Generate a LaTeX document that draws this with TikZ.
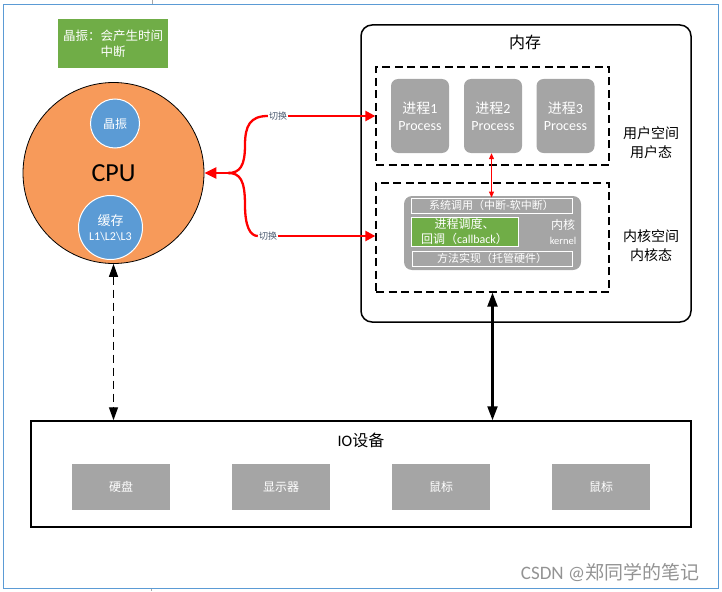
\documentclass[tikz,border=0pt]{standalone}
\usepackage{fontspec}
\setmainfont{Carlito}
\newfontfamily\cjk{Noto Sans CJK SC}
\usetikzlibrary{arrows.meta}
\definecolor{cgreen}{HTML}{70AD47}
\definecolor{corange}{HTML}{F79A5A}
\definecolor{cblue}{HTML}{5B9BD5}
\definecolor{cgray}{HTML}{A5A5A5}
\definecolor{cframe}{HTML}{5B9BD5}
\definecolor{clabel}{HTML}{44546A}
\newcommand{\fs}[2]{\fontsize{#1}{#2}\selectfont}
\begin{document}
\begin{tikzpicture}[x=1pt,y=-1pt,
  proc/.style={fill=cgray, rounded corners=7pt, minimum width=58pt, minimum height=74pt, text=white, align=center, inner sep=0pt, font=\fs{14}{17}},
  dev/.style={fill=cgray, minimum width=98pt, minimum height=46pt, text=white, font=\cjk\fs{12}{14}, inner sep=0pt},
  dbox/.style={draw, dash pattern=on 8pt off 4.5pt, line width=1.3pt, minimum width=233pt, inner sep=0pt},
  wbox/.style={draw=white, line width=0.9pt, text=white, inner sep=0pt},
  redline/.style={draw=red, line width=2.3pt},
  lab/.style={text=clabel, font=\cjk\fs{9}{10}, inner sep=1pt},
  bic/.style={circle, fill=cblue, draw=white, line width=1pt, text=white, inner sep=0pt, align=center}
]
\useasboundingbox (0,0) rectangle (722,591);
% outer frame
\draw[cframe, line width=1pt] (3.5,4.5) rectangle (718.5,588);
\draw[gray!70, line width=0.8pt] (152,0) -- (152,4);
\draw[gray!70, line width=0.8pt] (151,588.5) -- (151,591);

% green note
\node[fill=cgreen, minimum width=110pt, minimum height=49pt, text=white, align=center, font=\cjk\fs{12.5}{16}, inner sep=0pt] (note) at (113,43.5) {晶振：会产生时间\\中断};

% CPU
\node[circle, fill=corange, draw=black, line width=0.8pt, minimum size=181pt, inner sep=0pt] (cpu) at (113.5,173) {};
\node[font=\fs{26}{28}] (cputxt) at (113.5,173) {CPU};
\node[bic, minimum size=49pt, font=\cjk\fs{12}{14}] (osc) at (115,123.5) {晶振};
\node[bic, minimum size=64pt, font=\fs{12}{15}] (cache) at (110.5,227.5) {{\cjk\fs{13}{15}缓存}\\{\fs{12}{15}L1\textbackslash L2\textbackslash L3}};

% memory
\node[draw, rounded corners=11pt, line width=1.5pt, minimum width=330pt, minimum height=297pt, inner sep=0pt] (mem) at (526,173.5) {};
\node[font=\cjk\fs{16}{18}] (memtxt) at (525,42) {内存};

\node[dbox, minimum height=98pt] (user) at (492.5,116) {};
\node[proc] (p1) at (420,116) {{\cjk 进程}1\\Process};
\node[proc] (p2) at (493,116) {{\cjk 进程}2\\Process};
\node[proc] (p3) at (565.5,116) {{\cjk 进程}3\\Process};
\node[align=center, font=\cjk\fs{14}{19}] (usertxt) at (651,142.5) {用户空间\\用户态};

\node[dbox, minimum height=109pt] (kern) at (492.5,237.5) {};
\node[fill=cgray, rounded corners=8pt, minimum width=177pt, minimum height=74pt, inner sep=0pt] (kcore) at (492.5,233) {};
\node[wbox, minimum width=161pt, minimum height=15pt, font=\cjk\fs{11}{12}] (sys) at (491.5,205.5) {系统调用（中断-软中断）};
\node[wbox, fill=cgreen, minimum width=107pt, minimum height=29pt, align=center, font=\cjk\fs{12}{15}] (sched) at (464.5,231.5) {进程调度、\\回调（{\normalfont\fs{12}{15}callback}）};
\node[wbox, minimum width=160pt, minimum height=15pt, font=\cjk\fs{11}{12}] (meth) at (492,258.5) {方法实现（托管硬件）};
\node[draw=none, text=white, align=center, inner sep=0pt, font=\fs{12}{15}] (ktxt) at (563,232) {{\cjk 内核}\\{\fs{10.5}{15}kernel}};
\node[align=center, font=\cjk\fs{14}{19}] (kerntxt) at (651,246) {内核空间\\内核态};

% IO
\node[draw, line width=1.5pt, minimum width=660pt, minimum height=106pt, inner sep=0pt] (io) at (361,474) {};
\node[font=\fs{16}{18}] (iotxt) at (361,440) {IO{\cjk 设备}};
\node[dev] (d1) at (121,487) {硬盘};
\node[dev] (d2) at (281,487) {显示器};
\node[dev] (d3) at (441,487) {鼠标};
\node[dev] (d4) at (601,487) {鼠标};

% watermark
\node[text=gray!85, font=\cjk\fs{19}{20}, inner sep=0pt] (wm) at (610,572) {{\normalfont\fs{19}{20}CSDN @}郑同学的笔记};

% red switch arrows
\node[lab] (sw1) at (278,116) {切换};
\node[lab] (sw2) at (268,236) {切换};
\draw[redline, -{Triangle[length=10pt,width=10pt]}] (sw1.east) -- (user.west |- sw1);
\draw[redline, -{Triangle[length=10pt,width=10pt]}] (sw2.east) -- (kern.west |- sw2);
\draw[redline] (sw1.west) .. controls (250,116) and (245,126) .. (245,145) .. controls (245,166) and (240,173) .. (228,173);
\draw[redline] (sw2.west) .. controls (250,236) and (245,226) .. (245,205) .. controls (245,180) and (240,173) .. (228,173);
\draw[redline, -{Triangle[length=12pt,width=11pt]}] (230,173) -- (cpu.east);

% red thin double arrow
\draw[red, line width=1pt, {Triangle[length=6pt,width=5pt]}-{Triangle[length=6pt,width=5pt]}] (p2.south -| sys.north) -- (sys.north);

% black arrows
\draw[line width=1.4pt, dash pattern=on 8pt off 5pt, {Triangle[length=13pt,width=9pt]}-{Triangle[length=13pt,width=9pt]}] (cpu.south) -- (cpu.south |- io.north);
\draw[line width=2.2pt, {Triangle[length=14pt,width=10pt]}-{Triangle[length=14pt,width=10pt]}] (kern.south) -- (kern.south |- io.north);
\end{tikzpicture}
\end{document}
